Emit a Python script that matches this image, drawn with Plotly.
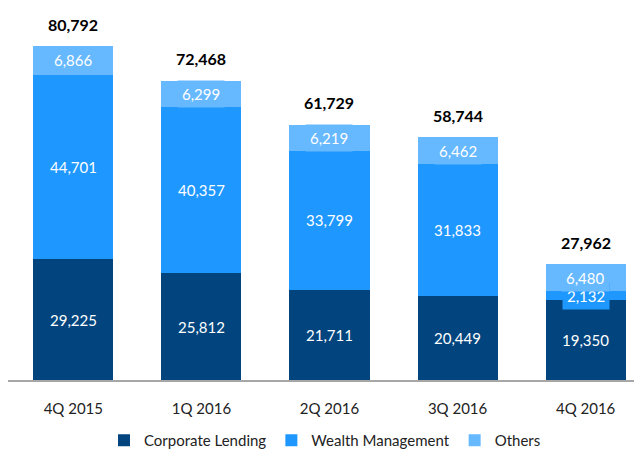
import plotly.graph_objects as go

quarters = ["4Q 2015", "1Q 2016", "2Q 2016", "3Q 2016", "4Q 2016"]
corporate_lending = [29225, 25812, 21711, 20449, 19350]
wealth_management = [44701, 40357, 33799, 31833, 2132]
others = [6866, 6299, 6219, 6462, 6480]

CL_COLOR = "#02457E"
WM_COLOR = "#1E97FF"
OT_COLOR = "#66B8FF"
FONT = "Lato"

totals = [a + b + c for a, b, c in zip(corporate_lending, wealth_management, others)]

fig = go.Figure()
series = [
    ("Corporate Lending", corporate_lending, CL_COLOR),
    ("Wealth Management", wealth_management, WM_COLOR),
    ("Others", others, OT_COLOR),
]
for name, vals, col in series:
    fig.add_trace(go.Bar(
        name=name, x=quarters, y=vals, width=0.625,
        marker=dict(color=col, line=dict(width=0)),
        hoverinfo="x+y+name",
    ))

# segment labels with a box in the segment colour (like the original)
base = [0] * len(quarters)
for name, vals, col in series:
    for i, q in enumerate(quarters):
        fig.add_annotation(
            x=q, y=base[i] + vals[i] / 2, text=f"{vals[i]:,}",
            showarrow=False, bgcolor=col, borderpad=4,
            font=dict(family=FONT, size=15, color="white"),
        )
        base[i] += vals[i]

# totals above bars
for q, t in zip(quarters, totals):
    fig.add_annotation(
        x=q, y=t, text=f"<b>{t:,}</b>", showarrow=False, yshift=22,
        font=dict(family=FONT, size=16, color="black"),
    )

# page body has an 8px margin, so the figure is offset by 8px
fig.update_layout(
    barmode="stack",
    width=642, height=449,
    margin=dict(l=0, r=8, t=2, b=76),
    plot_bgcolor="white", paper_bgcolor="white",
    font=dict(family=FONT, size=15, color="#222222"),
    legend=dict(
        orientation="h", x=0.5, xanchor="center", y=-0.162, yanchor="middle",
        font=dict(family=FONT, size=15, color="#222222"),
        traceorder="normal", itemwidth=30,
    ),
    xaxis=dict(
        range=[-0.51, 4.44], showline=True, linecolor="#A6A6A6", linewidth=2,
        showgrid=False, ticks="", ticklabelstandoff=14,
        tickfont=dict(family=FONT, size=15, color="#222222"),
    ),
    yaxis=dict(range=[0, 89550], visible=False, showgrid=False),
)

fig.write_html("out.html")
